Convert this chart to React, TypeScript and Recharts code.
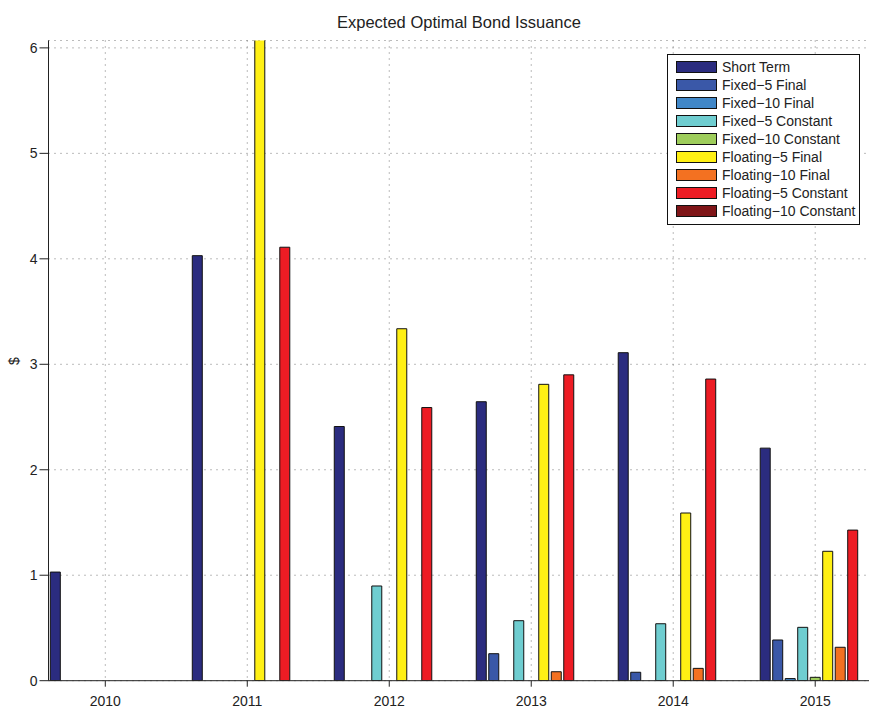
import { BarChart, Bar, XAxis, YAxis, CartesianGrid, Legend } from 'recharts';

const years = [2010, 2011, 2012, 2013, 2014, 2015];
const yTicks = [0, 1, 2, 3, 4, 5, 6];

const shortTerm = [1.03, 4.03, 2.41, 2.645, 3.11, 2.205];
const fixed5Final = [0, 0, 0, 0.256, 0.08, 0.386];
const fixed10Final = [0, 0, 0, 0, 0, 0.02];
const fixed5Constant = [0, 0, 0.898, 0.569, 0.54, 0.506];
const fixed10Constant = [0, 0, 0, 0, 0, 0.032];
const floating5Final = [0, 6.5, 3.337, 2.81, 1.59, 1.227];
const floating10Final = [0, 0, 0, 0.085, 0.117, 0.317];
const floating5Constant = [0, 4.11, 2.59, 2.9, 2.86, 1.428];
const floating10Constant = [0, 0, 0, 0, 0, 0];

const series = [
  { key: 'shortTerm', name: 'Short Term', color: '#2b2c7f', values: shortTerm },
  { key: 'fixed5Final', name: 'Fixed\u22125 Final', color: '#3a58a8', values: fixed5Final },
  { key: 'fixed10Final', name: 'Fixed\u221210 Final', color: '#4087c8', values: fixed10Final },
  { key: 'fixed5Constant', name: 'Fixed\u22125 Constant', color: '#6fcdd0', values: fixed5Constant },
  { key: 'fixed10Constant', name: 'Fixed\u221210 Constant', color: '#9ecd5b', values: fixed10Constant },
  { key: 'floating5Final', name: 'Floating\u22125 Final', color: '#fff014', values: floating5Final },
  { key: 'floating10Final', name: 'Floating\u221210 Final', color: '#f37121', values: floating10Final },
  { key: 'floating5Constant', name: 'Floating\u22125 Constant', color: '#ed1c24', values: floating5Constant },
  { key: 'floating10Constant', name: 'Floating\u221210 Constant', color: '#7f1518', values: floating10Constant },
];

const data = years.map((year, i) => {
  const row: Record<string, number> = { year };
  series.forEach(s => { row[s.key] = s.values[i]; });
  return row;
});

const font = '"Liberation Sans", Arial, Helvetica, sans-serif';
const axisColor = '#222';

const LegendBox = () => (
  <div style={{
    border: '1px solid #111', background: '#fff', padding: '3px 4px 4px 8px',
    fontFamily: font, fontSize: 14, color: '#222',
  }}>
    {series.map(s => (
      <div key={s.key} style={{ display: 'flex', alignItems: 'center', height: 18 }}>
        <span style={{
          display: 'inline-block', width: 39, height: 10, background: s.color,
          border: '1px solid #111', marginRight: 5,
        }} />
        <span style={{ whiteSpace: 'nowrap' }}>{s.name}</span>
      </div>
    ))}
  </div>
);

export default function App() {
  return (
    <div style={{
      position: 'fixed', left: 0, top: 0, width: 869, height: 709,
      overflow: 'hidden', background: '#fff', fontFamily: font,
    }}>
      <BarChart
        width={872}
        height={709}
        data={data}
        margin={{ top: 40.5, right: 0, bottom: 0, left: 0 }}
        barSize={10}
        barGap={2.5}
      >
        {/* dotted MATLAB-style grid */}
        <CartesianGrid stroke="#777" strokeDasharray="1 5" />
        <XAxis
          dataKey="year"
          type="number"
          domain={[2009.6, 2015.4]}
          allowDataOverflow
          ticks={years}
          height={28.3}
          tickSize={6}
          tickMargin={9}
          stroke={axisColor}
          tick={{ fill: axisColor, fontSize: 14, fontFamily: font }}
        />
        <XAxis
          xAxisId="top"
          dataKey="year"
          orientation="top"
          type="number"
          domain={[2009.6, 2015.4]}
          allowDataOverflow
          ticks={years}
          height={0}
          tickSize={8}
          tickFormatter={() => ''}
          stroke={axisColor}
        />
        <YAxis
          domain={[0, 6.07]}
          allowDataOverflow
          ticks={yTicks}
          width={48.5}
          tickSize={9}
          tickMargin={2}
          stroke={axisColor}
          tick={{ fill: axisColor, fontSize: 14, fontFamily: font }}
        />
        <Legend
          layout="horizontal"
          verticalAlign="middle"
          align="center"
          wrapperStyle={{ position: 'absolute', left: 667, top: 54, width: 'auto', height: 'auto' }}
          content={() => <LegendBox />}
        />
        {series.map(s => (
          <Bar
            key={s.key}
            dataKey={s.key}
            name={s.name}
            fill={s.color}
            stroke="#111"
            strokeWidth={1}
            isAnimationActive={false}
          />
        ))}
      </BarChart>
      <svg width={869} height={709} style={{ position: 'absolute', left: 0, top: 0, pointerEvents: 'none' }}>
        <text x={459} y={28} textAnchor="middle" fontSize={16.5} fontFamily={font} fill="#222">
          Expected Optimal Bond Issuance
        </text>
        <text x={19} y={361} textAnchor="middle" fontSize={14} fontFamily={font} fill="#222"
          transform="rotate(-90 19 361)">
          $
        </text>
      </svg>
    </div>
  );
}
